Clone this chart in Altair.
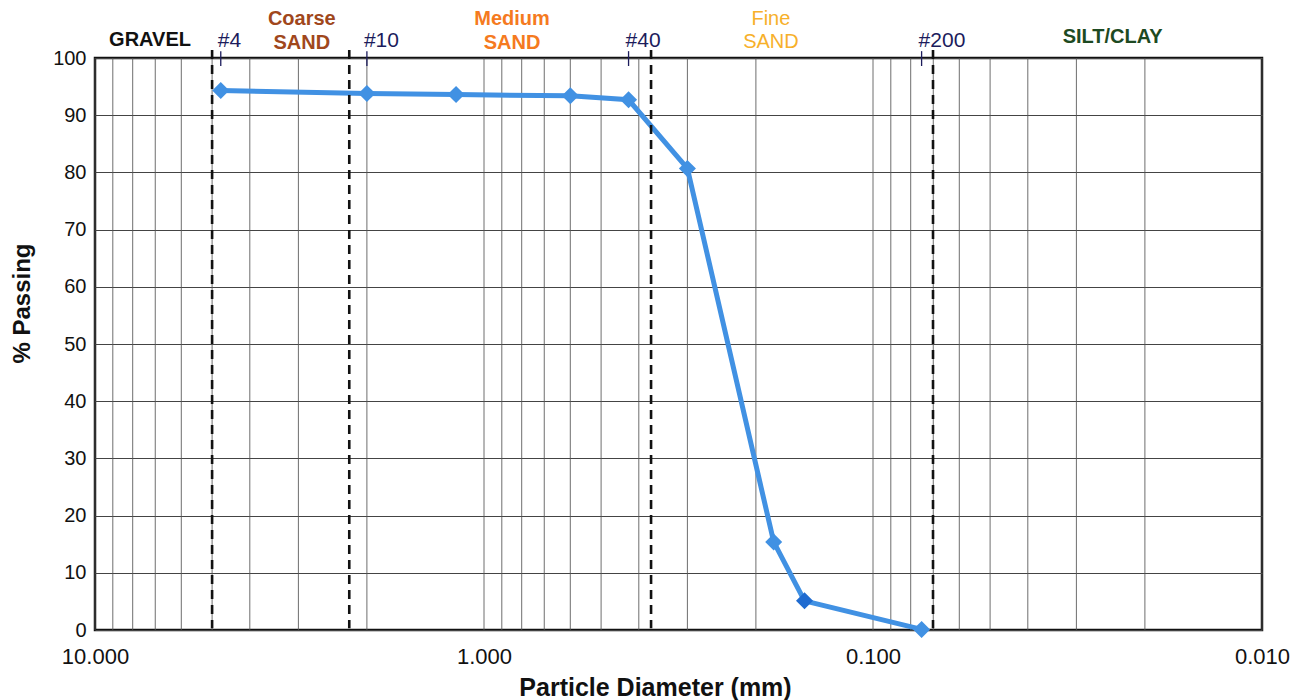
import altair as alt
import pandas as pd

# Sieve data
sieve_names = ["#4", "#10", "#16", "#30", "#40", "#50", "#80", "#100", "#200"]
diameters = [4.75, 2.0, 1.18, 0.6, 0.425, 0.3, 0.18, 0.15, 0.075]
passing = [94.3, 93.8, 93.6, 93.4, 92.7, 80.7, 15.4, 5.1, 0.1]
point_colors = ["#4191e3", "#4191e3", "#4191e3", "#4191e3", "#4191e3", "#4191e3", "#4191e3", "#1f6bd0", "#4191e3"]

# Boundary (dashed) lines as drawn
boundary_x = [5.0, 2.22, 0.372, 0.0701]

# Sieve labels at top
top_sieves = ["#4", "#10", "#40", "#200"]
top_sieve_x = [4.75, 2.0, 0.425, 0.075]

# Soil class labels
class_lines = ["GRAVEL", "Coarse", "SAND", "Medium", "SAND", "Fine", "SAND", "SILT/CLAY"]
class_x = [7.22, 2.94, 2.94, 0.847, 0.847, 0.183, 0.183, 0.0242]
class_y = [103.1, 106.8, 102.6, 106.8, 102.6, 106.8, 102.8, 103.6]
class_colors = ["#111111", "#a0471c", "#a0471c", "#f57a20", "#f57a20", "#f7b02a", "#f7b02a", "#1d4a22"]
class_bold = ["bold", "bold", "bold", "bold", "bold", "normal", "normal", "bold"]

x_ticks = [10, 1, 0.1, 0.01]
y_ticks = [0, 10, 20, 30, 40, 50, 60, 70, 80, 90, 100]

# Log grid positions
grid_x = []
for e in [0.01, 0.1, 1]:
    for k in range(1, 10):
        grid_x.append(round(k * e, 4))
grid_x.append(10)

W, H = 1167, 572
FONT = "Liberation Sans"

xscale = alt.Scale(type="log", domain=[0.01, 10], reverse=True)
yscale = alt.Scale(domain=[0, 100], nice=False)

df = pd.DataFrame({"d": diameters, "p": passing, "name": sieve_names, "c": point_colors})
grid_df = pd.DataFrame({"g": grid_x})
bnd_df = pd.DataFrame({"b": boundary_x, "top": [101.4] * 4, "bot": [0.3] * 4})
sv_df = pd.DataFrame({"s": top_sieve_x, "lab": top_sieves, "top": [101.2] * 4, "bot": [98.6] * 4})
cls_df = pd.DataFrame({"x": class_x, "y": class_y, "t": class_lines, "c": class_colors, "w": class_bold})

base_x = alt.X("d:Q", scale=xscale,
               axis=alt.Axis(values=x_ticks, format=".3f", grid=False, ticks=False,
                             labelFontSize=22, labelFont=FONT, labelColor="#111",
                             labelPadding=16, domain=False, labelFlush=False,
                             title="Particle Diameter (mm)", titleFontSize=25, titleFont=FONT,
                             titleFontWeight="bold", titleColor="#111",
                             titleX=560, titleY=57, titleBaseline="middle", titleAnchor="middle"))
base_y = alt.Y("p:Q", scale=yscale,
               axis=alt.Axis(values=y_ticks, grid=True, gridColor="#444", gridWidth=1,
                             ticks=False, domain=False,
                             labelFontSize=20, labelFont=FONT, labelColor="#111", labelPadding=9,
                             title="% Passing", titleFontSize=24, titleFont=FONT,
                             titleFontWeight="bold", titleColor="#111",
                             titleX=-73, titleY=245, titleBaseline="middle", titleAngle=270))

vgrid = alt.Chart(grid_df).mark_rule(color="#555", strokeWidth=1, opacity=0.85).encode(
    x=alt.X("g:Q", scale=xscale),
    y=alt.value(0), y2=alt.value(H)
)

bounds = alt.Chart(bnd_df).mark_rule(color="#111", strokeWidth=2.6, strokeDash=[9, 6]).encode(
    x=alt.X("b:Q", scale=xscale),
    y=alt.Y("top:Q", scale=yscale), y2="bot:Q"
)

sieve_ticks = alt.Chart(sv_df).mark_rule(color="#1c1c5c", strokeWidth=1.3).encode(
    x=alt.X("s:Q", scale=xscale),
    y=alt.Y("top:Q", scale=yscale), y2="bot:Q"
)
sieve_labels = alt.Chart(sv_df).mark_text(align="left", baseline="middle", dx=-3, dy=-10,
                                          fontSize=21, font=FONT, color="#1c1c5c").encode(
    x=alt.X("s:Q", scale=xscale),
    y=alt.Y("top:Q", scale=yscale),
    text="lab:N"
)

cls_bold = alt.Chart(cls_df[cls_df.w == "bold"]).mark_text(align="center", baseline="middle",
                                                           fontSize=20, font=FONT, fontWeight="bold").encode(
    x=alt.X("x:Q", scale=xscale), y=alt.Y("y:Q", scale=yscale), text="t:N",
    color=alt.Color("c:N", scale=None))
cls_norm = alt.Chart(cls_df[cls_df.w == "normal"]).mark_text(align="center", baseline="middle",
                                                             fontSize=20, font=FONT).encode(
    x=alt.X("x:Q", scale=xscale), y=alt.Y("y:Q", scale=yscale), text="t:N",
    color=alt.Color("c:N", scale=None))

line = alt.Chart(df).mark_line(color="#4191e3", strokeWidth=5).encode(
    x=base_x, y=base_y, order=alt.Order("d:Q", sort="descending")
)
points = alt.Chart(df).mark_point(shape="diamond", filled=True, size=290, opacity=1).encode(
    x=alt.X("d:Q", scale=xscale), y=alt.Y("p:Q", scale=yscale),
    color=alt.Color("c:N", scale=None)
)

chart = alt.layer(vgrid, line, points, bounds, sieve_ticks, sieve_labels, cls_bold, cls_norm).properties(
    width=W, height=H,
    padding={"left": 95, "top": 58, "right": 36, "bottom": 70},
    autosize=alt.AutoSizeParams(type="none"),
    background="white"
).configure_view(stroke="#111", strokeWidth=2.5)

chart.save("out.html", embed_options={"renderer": "svg", "actions": False})
